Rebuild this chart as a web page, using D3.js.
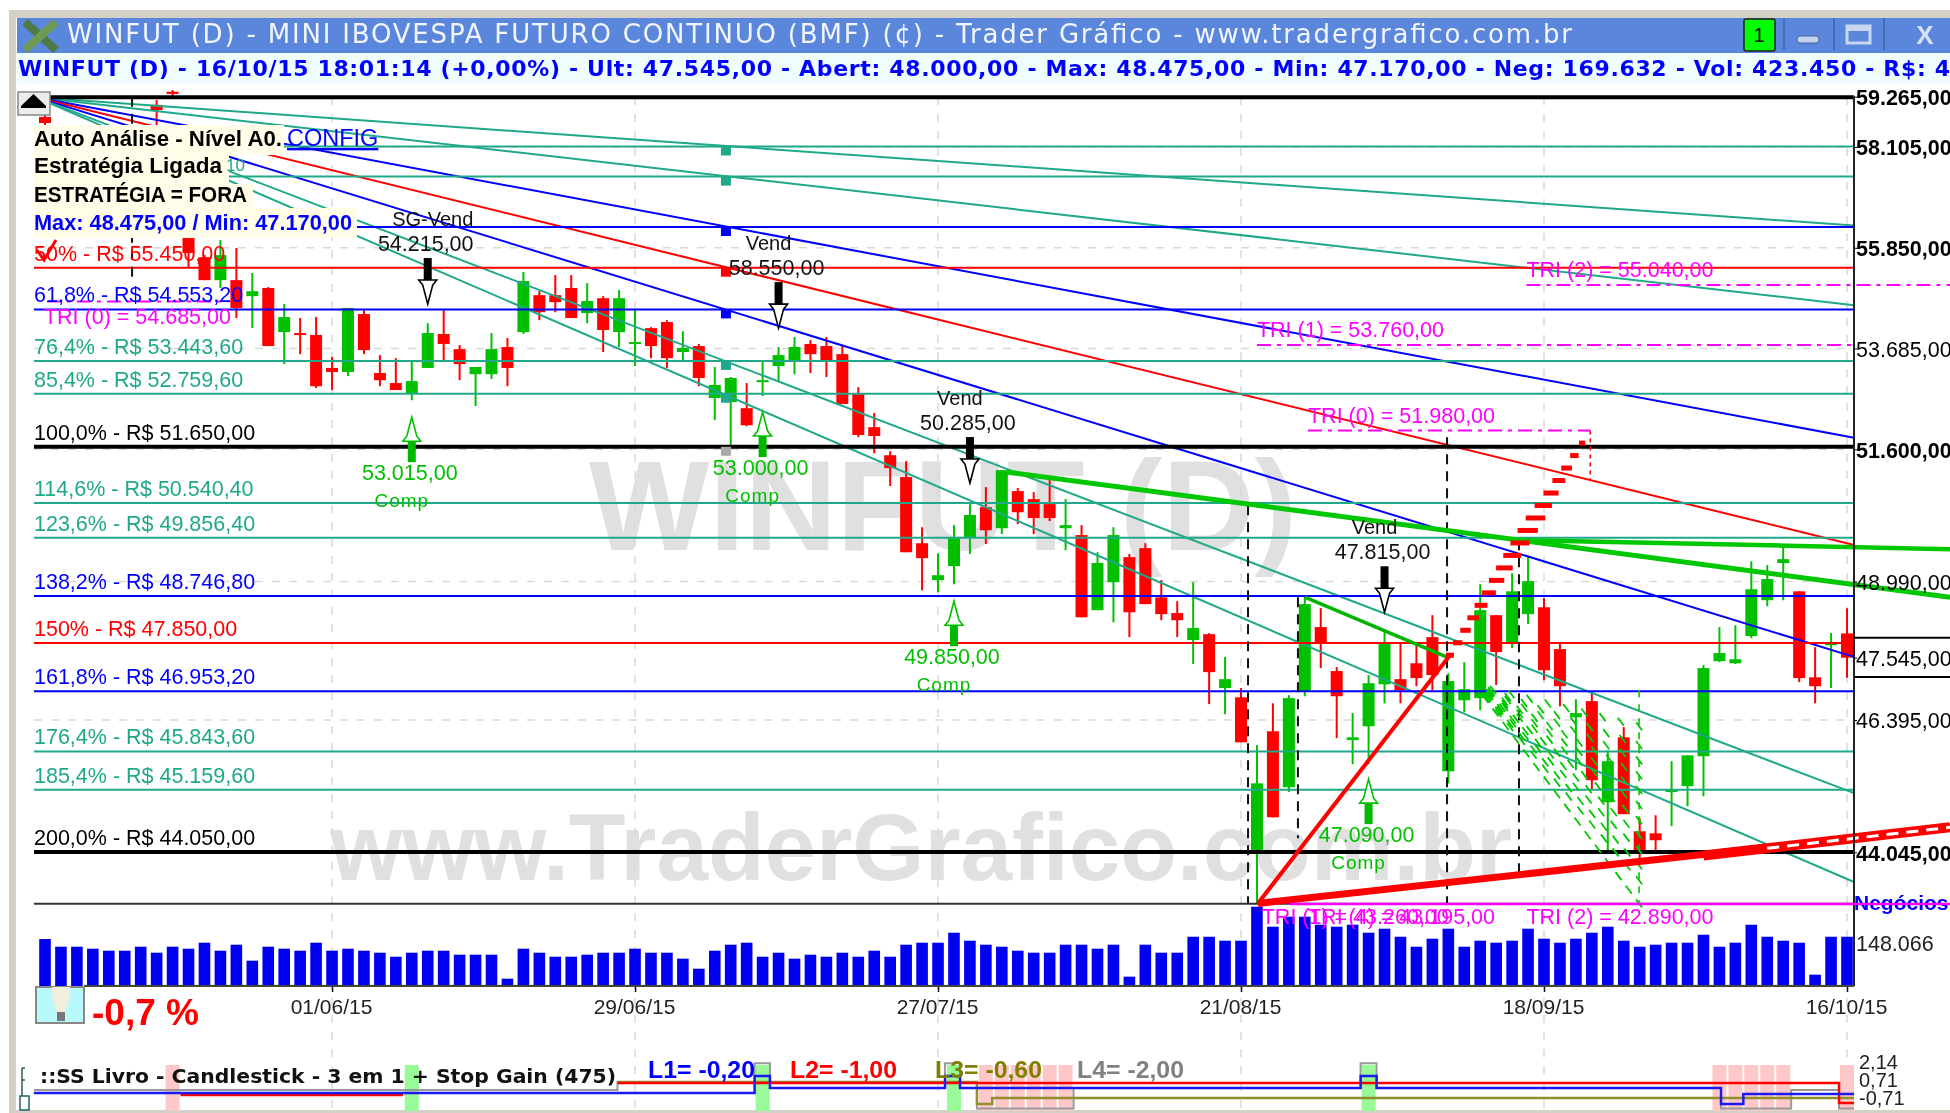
<!DOCTYPE html>
<html>
<head>
<meta charset="utf-8">
<title>WINFUT (D)</title>
<script src="https://d3js.org/d3.v7.min.js"></script>
<style>
  html, body { margin: 0; padding: 0; background: #fff; overflow: hidden; }
  svg { display: block; filter: blur(0.45px); }
  text { font-family: "Liberation Sans", Arial, sans-serif; }
</style>
</head>
<body>
<div id="chart"></div>
<script>
// candles, one entry per session
const opens = [58795,58495,57695,58035,56905,57355,58035,59075,59380,56065,55645,55145,55145,54800,54975,54030,54010,53970,53275,53190,54415,53170,52960,52750,53275,53990,53670,53145,53145,53715,54030,54820,54820,54975,54435,54755,54030,53780,54115,54245,53610,53735,52650,52565,52440,53000,53315,53420,53780,53735,53565,52730,52050,51480,51040,49730,49015,49285,49850,50440,50025,50760,50600,50500,50025,49890,48440,48975,49460,49635,48685,48385,47875,47985,46980,46810,44030,46190,45185,46925,48120,47295,46030,46280,47050,47145,47440,47930,45470,46755,46795,48345,47815,48365,48495,47705,46445,46740,44920,46080,44410,44375,45100,45205,45740,47480,47440,47950,48630,49345,48800,47180,47780,48000];
const highs = [58840,58585,58495,58265,57810,57470,58265,59190,59420,56065,55690,56020,55845,55300,54995,54630,54330,54350,53505,54545,54500,53545,53480,53400,54220,54500,53755,53295,54010,53905,55320,54905,55255,55255,55080,54800,54930,54500,54135,54285,54050,53780,53295,53085,52960,53400,53715,53925,53860,53925,53755,52875,52340,51560,51360,50045,49535,50085,50500,50840,51180,50820,50740,50980,50600,50085,49555,50045,49520,49730,49015,48610,48975,48005,47555,46980,45940,46700,46850,48705,48480,47370,46520,47220,48025,47815,47815,48345,47255,47460,48935,48345,49150,49460,48670,47815,46775,46885,45845,46265,44640,44690,45650,45755,47405,48120,48155,49380,49305,49675,48800,47740,48005,48475];
const lows = [58610,57810,57470,56905,56685,56350,57130,58380,59260,55430,55145,54975,54330,54115,53735,53355,53565,52855,52815,53105,53565,52895,52815,52605,53275,53420,53020,52485,53045,52895,53990,54285,54455,54330,54220,53610,53715,53315,53480,53275,53420,52895,52195,51685,52070,52690,52980,53145,53170,53085,52525,51845,51520,50860,49555,48820,48785,48935,49520,49715,49910,50105,49910,50165,49595,48305,48440,48210,47930,48555,48250,47930,47425,46685,46500,45990,43170,44655,45100,46830,47350,46065,45595,45595,46700,46700,47015,46940,45255,46535,46575,47035,47725,48175,47125,46645,45490,45135,44080,44710,43910,44030,44500,44850,45025,47460,47425,47910,48515,48630,47090,46700,46980,47170];
const closes = [58655,58035,58265,57130,57580,56685,57470,58955,59330,55735,55145,55690,54545,54905,53735,54350,53990,52895,53190,54545,53650,53020,52815,53000,54010,53780,53355,53295,53670,53275,55125,54455,54670,54330,54695,54075,54755,53820,53735,53480,53695,53065,52920,53065,52090,53020,53545,53715,53565,53420,52525,51890,51870,51220,49555,49440,49110,49830,50285,49985,51180,50340,50225,50225,50085,48305,49345,49890,48400,48555,48365,48250,48100,47275,47145,45990,45255,44655,46795,48555,47815,46830,46080,47070,47800,46940,47165,47220,47110,46960,48440,47650,48800,48995,47310,47015,46520,45310,45650,44710,44030,44255,45135,45755,47350,47630,47515,48840,49035,49420,47165,47015,47815,47545];

// negocios per session, in thousands
const negocios = [161.7,135.3,135.3,128.5,121.6,121.6,135.3,114.7,135.3,128.5,149.1,121.6,142.2,87.2,135.3,128.5,121.6,149.1,121.6,128.5,121.6,114.7,100.9,114.7,121.6,121.6,107.8,107.8,107.8,25.2,128.5,114.7,100.9,100.9,107.8,114.7,114.7,128.5,114.7,114.7,94.1,59.6,121.6,142.2,149.1,100.9,114.7,94.1,107.8,100.9,114.7,100.9,121.6,100.9,142.2,149.1,149.1,183.5,156,142.2,135.3,121.6,114.7,114.7,142.2,142.2,128.5,142.2,32.1,142.2,114.7,114.7,169.6,169.6,156,156,273,204.2,238.6,238.6,211,204.2,211,183.5,197.3,169.6,135.3,162.9,197.3,135.3,156,149.1,156,197.3,162.9,149.1,162.9,183.5,204.2,156,135.3,142.2,149.1,149.1,176.6,135.3,149.1,211,169.6,156,149.1,39,169.6,169.6];

const dateTicks = [18, 37, 56, 75, 94, 113];
const dateLabels = ["01/06/15", "29/06/15", "27/07/15", "21/08/15", "18/09/15", "16/10/15"];

const priceTicks = [59265, 58105, 55850, 53685, 51600, 48990, 47545, 46395, 44045];
const boldTicks = [59265, 58105, 55850, 51600, 44045];

// fibonacci levels, first one is the top line of the chart
const levelPrices = [59250, 58140.4, 57456.4, 56347.2, 55450, 54553.2, 53443.6, 52759.6, 51650, 50540.4, 49856.4, 48746.8, 47850, 46953.2, 45843.6, 45159.6, 44050];
const levelPct = ["0%", "14,6%", "23,6%", "38,2%", "50%", "61,8%", "76,4%", "85,4%", "100,0%", "114,6%", "123,6%", "138,2%", "150%", "161,8%", "176,4%", "185,4%", "200,0%"];
const levelKinds = ["black", "teal", "teal", "blue", "red", "blue", "teal", "teal", "black", "teal", "teal", "blue", "red", "blue", "teal", "teal", "black"];
const levelText = ["", "", "", "", "55.450,00", "54.553,20", "53.443,60", "52.759,60", "51.650,00", "50.540,40", "49.856,40", "48.746,80", "47.850,00", "46.953,20", "45.843,60", "45.159,60", "44.050,00"];

// fan lines, all leave the same point and end at these prices on the right edge
const fanStart = [-0.56, 59250];
const fanEndIdx = 113.44;
const fanEnds = [56340, 54605, 51835, 49695, 47560, 45080, 43535];
const fanKinds = ["teal", "teal", "blue", "red", "blue", "teal", "teal"];

// little squares under the levels at the pivot session
const pivotIdx = 42.7;
const pivotLevels = [1, 2, 3, 4, 5, 6, 7, 8];

const tri = [
  { label: "TRI (0) = 54.685,00", price: 54685, from: 0.12, to: 11.5 },
  { label: "TRI (1) = 53.760,00", price: 53760, from: 76, to: 113.44 },
  { label: "TRI (2) = 55.040,00", price: 55040, from: 92.9, to: 119.5 },
  { label: "TRI (0) = 51.980,00", price: 51980, from: 79.2, to: 96.9 }
];
const triBottom = [
  { label: "TRI (1) = 43.260,00", from: 76.3 },
  { label: "TRI (4) = 43.195,00", from: 79.2 },
  { label: "TRI (2) = 42.890,00", from: 92.9 }
];

// [idx, price] pairs for the trend lines
const greenA = [[60.33, 51140], [119.46, 48685]];
const greenB = [[92.87, 49790], [119.46, 49615]];
const greenC = [[79.0, 48690], [87.92, 47555]];
const redA = [[76.06, 43170], [88.1, 47590]];
const redDash = [[88.1, 47590], [96.88, 51980]];
const redBottom = [[76.06, 43170], [119.46, 44480]];
const redBottomWide = [[104, 43990], [119.46, 44480]];

const hatchStart = [89.67, 47035];
const hatchEndIdx = 99.96;
const hatchEnds = [46280, 45940, 45665, 45400, 45135, 44870, 44605, 44340, 44080, 43820, 43565, 43170];

const vertIdx = [5.46, 75.44, 78.57, 87.92, 92.43];
const vertTop = [59265, 50480, 48685, 51845, 49790];
const vertBottom = [55105, 43170, 44290, 43170, 43565];

const sellIdx = [24, 46, 58, 84];
const sellTip = [54630, 54115, 50920, 48400];
const sellName = ["SG-Vend", "Vend", "Vend", "Vend"];
const sellText = ["54.215,00", "58.550,00", "50.285,00", "47.815,00"];

const buyIdx = [23, 45, 57, 83];
const buyTip = [52255, 52360, 48610, 45330];
const buyText = ["53.015,00", "53.000,00", "49.850,00", "47.090,00"];

// bottom indicator
const greenBands = [23, 45, 57, 83];
const pinkBands = [8, 59, 60, 61, 62, 63, 64, 105, 106, 107, 108, 109, 113];
const oscTicks = ["2,14", "0,71", "-0,71"];
const oscTickValues = [2.14, 0.71, -0.71];
const oscBlue = [[-0.7, -0.32], [44.5, 1.03], [45.46, 0.08], [56.44, 1.03], [57.38, 0.08], [82.5, 1.03], [83.5, 0.08], [105.1, -1.18], [106.5, -0.39], [113.44, -0.39]];
const oscRedA = [[8.5, -0.47], [22.45, -0.47]];
const oscRedB = [[35.9, 0.47], [112.5, -1.1], [113.44, -1.1]];
const oscOlive = [[35.9, 0.55], [58.44, -1.18], [59.4, -0.71], [113.44, -0.71]];
const oscGray = [[-0.7, -0.08], [35.9, 0.55], [44.5, 2.05], [45.46, 0.55], [56.44, 2.05], [57.38, 0.55], [58.44, -1.55], [64.5, 0.08], [82.5, 2.05], [83.5, 0.08], [105.1, -1.55], [109.5, -0.08], [112.5, -1.55], [113.44, -1.55]];

// ---------------------------------------------------------------
const WIDTH = 1950, HEIGHT = 1113;
const PLOT_LEFT = 34, PLOT_RIGHT = 1854, VOL_BASE = 986;
const colors = { teal: "#20a88a", blue: "#0000ff", red: "#ff0000", black: "#000", green: "#00c000", magenta: "#ff00ff" };
// the coloured levels sit a pixel or two under the true scale in the original
const levelNudge = { teal: 1, blue: 1.8, red: 1.6, black: 0 };

const svg = d3.select("#chart").append("svg").attr("width", WIDTH).attr("height", HEIGHT);

const x = d3.scaleLinear().domain([0, 113]).range([45, 1847]);
const y = d3.scaleLog().domain([59265, 43165]).range([96.7, 903.7]);
const yVol = d3.scaleLinear().domain([0, 148.066]).range([VOL_BASE, 943]);
const yOsc = d3.scaleLinear().domain([2.14, -0.71]).range([1062, 1098]);
const yLevel = i => y(levelPrices[i]) + levelNudge[levelKinds[i]];

const lineXY = d3.line().x(d => x(d[0])).y(d => y(d[1]));
const oscLine = d3.line().x(d => x(d[0])).y(d => yOsc(d[1])).curve(d3.curveStepAfter);

// ---- window chrome
svg.append("rect").attr("x", 9).attr("y", 10).attr("width", WIDTH).attr("height", HEIGHT).attr("fill", "#d4d0c8");
svg.append("rect").attr("x", 16).attr("y", 18).attr("width", WIDTH).attr("height", HEIGHT - 21).attr("fill", "#fff");
svg.append("rect").attr("x", 17).attr("y", 18).attr("width", WIDTH).attr("height", 35).attr("fill", "#5a87db");
svg.append("rect").attr("x", 17).attr("y", 53).attr("width", WIDTH).attr("height", 31).attr("fill", "#effdff");

svg.append("path").attr("d", "M25,22 L56,50").attr("stroke", "#4f7a45").attr("stroke-width", 8);
svg.append("path").attr("d", "M25,50 L56,22").attr("stroke", "#6f9a55").attr("stroke-width", 8);

svg.append("text").attr("x", 67).attr("y", 43).attr("fill", "#f2f5ff")
  .style("font-family", "'DejaVu Sans'").style("font-size", "26px")
  .attr("textLength", 1505).attr("lengthAdjust", "spacing")
  .text("WINFUT (D) - MINI IBOVESPA FUTURO CONTINUO (BMF) (¢) - Trader Gráfico - www.tradergrafico.com.br");
svg.append("text").attr("x", 18).attr("y", 76).attr("fill", "#0000ff")
  .style("font-family", "'DejaVu Sans'").style("font-weight", "bold").style("font-size", "22px")
  .attr("textLength", 1932).attr("lengthAdjust", "spacing")
  .text("WINFUT (D) - 16/10/15 18:01:14 (+0,00%) - Ult: 47.545,00 - Abert: 48.000,00 - Max: 48.475,00 - Min: 47.170,00 - Neg: 169.632 - Vol: 423.450 - R$: 4");

svg.append("rect").attr("x", 1744).attr("y", 19).attr("width", 31).attr("height", 32).attr("rx", 2)
  .attr("fill", "#00ff00").attr("stroke", "#222").attr("stroke-width", 1.5);
svg.append("text").attr("x", 1759).attr("y", 42).attr("text-anchor", "middle").style("font-size", "20px").text("1");
[1784, 1834, 1884].forEach(b => {
  svg.append("line").attr("x1", b).attr("x2", b).attr("y1", 18).attr("y2", 50).attr("stroke", "#44629e").attr("stroke-width", 1.5);
});
svg.append("rect").attr("x", 1797).attr("y", 36).attr("width", 22).attr("height", 7).attr("rx", 3).attr("fill", "#c4d2ee").attr("stroke", "#44629e");
svg.append("rect").attr("x", 1847).attr("y", 26).attr("width", 23).attr("height", 17).attr("fill", "none").attr("stroke", "#c8d6f0").attr("stroke-width", 3);
svg.append("rect").attr("x", 1847).attr("y", 26).attr("width", 23).attr("height", 5).attr("fill", "#c8d6f0");
svg.append("text").attr("x", 1925).attr("y", 44).attr("text-anchor", "middle").attr("fill", "#d8e2f6")
  .style("font-size", "26px").style("font-weight", "bold").text("X");

// ---- watermarks
const mark = svg.append("g").attr("fill", "#e0e0e0").style("font-weight", "bold");
mark.append("text").attr("x", 589).attr("y", 550).style("font-size", "128px")
  .attr("textLength", 708).attr("lengthAdjust", "spacingAndGlyphs").text("WINFUT (D)");
mark.append("text").attr("x", 330).attr("y", 880).style("font-size", "95px")
  .attr("textLength", 1182).attr("lengthAdjust", "spacingAndGlyphs").text("www.TraderGrafico.com.br");

// ---- grid
const grid = svg.append("g").attr("stroke", "#d9d9d9").attr("stroke-width", 1.5).attr("stroke-dasharray", "8 9");
grid.selectAll("line.v").data(dateTicks).join("line").attr("class", "v")
  .attr("x1", d => x(d)).attr("x2", d => x(d)).attr("y1", 97).attr("y2", 1110);
grid.selectAll("line.h").data(priceTicks.filter(d => d !== 47545 && d !== 59265)).join("line").attr("class", "h")
  .attr("x1", PLOT_LEFT).attr("x2", PLOT_RIGHT).attr("y1", d => y(d)).attr("y2", d => y(d));

// ---- candles
const candles = svg.append("g");
const isUp = i => closes[i] >= opens[i];
candles.selectAll("line").data(opens).join("line")
  .attr("x1", (d, i) => x(i)).attr("x2", (d, i) => x(i))
  .attr("y1", (d, i) => y(highs[i])).attr("y2", (d, i) => y(lows[i]))
  .attr("stroke", (d, i) => isUp(i) ? colors.green : colors.red).attr("stroke-width", 2);
candles.selectAll("rect").data(opens).join("rect")
  .attr("x", (d, i) => x(i) - 6).attr("width", 12)
  .attr("y", (d, i) => Math.min(y(opens[i]), y(closes[i])))
  .attr("height", (d, i) => Math.max(2, Math.abs(y(opens[i]) - y(closes[i]))))
  .attr("fill", (d, i) => isUp(i) ? colors.green : colors.red);

// ---- volume
svg.append("g").selectAll("rect").data(negocios).join("rect")
  .attr("x", (d, i) => x(i) - 5.8).attr("width", 11.6)
  .attr("y", d => yVol(d)).attr("height", d => VOL_BASE - yVol(d))
  .attr("fill", "#0000f0");

// ---- fan lines and levels
svg.append("g").selectAll("path").data(fanEnds).join("path")
  .attr("d", d => lineXY([fanStart, [fanEndIdx, d]]))
  .attr("fill", "none").attr("stroke", (d, i) => colors[fanKinds[i]]).attr("stroke-width", 2);

svg.append("g").selectAll("line").data(levelPrices).join("line")
  .attr("x1", PLOT_LEFT).attr("x2", PLOT_RIGHT)
  .attr("y1", (d, i) => yLevel(i)).attr("y2", (d, i) => yLevel(i))
  .attr("stroke", (d, i) => colors[levelKinds[i]])
  .attr("stroke-width", (d, i) => levelKinds[i] === "black" ? 4 : 2);
svg.append("line").attr("x1", PLOT_LEFT).attr("x2", PLOT_RIGHT).attr("y1", 903.7).attr("y2", 903.7).attr("stroke", "#333").attr("stroke-width", 2);

svg.append("g").selectAll("rect").data(pivotLevels).join("rect")
  .attr("x", x(pivotIdx) - 5).attr("width", 10)
  .attr("y", d => yLevel(d)).attr("height", 9)
  .attr("fill", d => d === 8 ? "#aaa" : colors[levelKinds[d]]);

// ---- dashed verticals
svg.append("g").selectAll("line").data(vertIdx).join("line")
  .attr("x1", d => x(d)).attr("x2", d => x(d))
  .attr("y1", (d, i) => y(vertTop[i])).attr("y2", (d, i) => y(vertBottom[i]))
  .attr("stroke", "#111").attr("stroke-width", 2).attr("stroke-dasharray", "10 7");

// ---- green hatch, short slashes along lines that leave the same point
const hatchPath = d3.path();
hatchEnds.forEach(end => {
  const x0 = x(hatchStart[0]), y0 = y(hatchStart[1]), x1 = x(hatchEndIdx), y1 = y(end);
  const steps = Math.floor(Math.hypot(x1 - x0, y1 - y0) / 17);
  d3.range(1, steps + 1).forEach(s => {
    const px = x0 + (x1 - x0) * s / steps, py = y0 + (y1 - y0) * s / steps;
    hatchPath.moveTo(px - 3, py - 4);
    hatchPath.lineTo(px + 3, py + 4);
  });
});
svg.append("path").attr("d", hatchPath.toString()).attr("fill", "none").attr("stroke", "#00c800").attr("stroke-width", 1.8);
svg.append("line").attr("x1", x(hatchEndIdx)).attr("x2", x(hatchEndIdx))
  .attr("y1", y(46940)).attr("y2", y(43170))
  .attr("stroke", "#00c800").attr("stroke-width", 1.6).attr("stroke-dasharray", "7 7");

// ---- trend lines
const trend = svg.append("g").attr("fill", "none");
trend.append("path").attr("d", lineXY(greenA)).attr("stroke", "#00c800").attr("stroke-width", 5);
trend.append("path").attr("d", lineXY(greenB)).attr("stroke", "#00c800").attr("stroke-width", 4.5);
trend.append("path").attr("d", lineXY(greenC)).attr("stroke", "#00b400").attr("stroke-width", 3.5);
trend.append("path").attr("d", lineXY(redA)).attr("stroke", colors.red).attr("stroke-width", 4);
trend.append("path").attr("d", lineXY(redBottom)).attr("stroke", colors.red).attr("stroke-width", 7);
trend.append("path").attr("d", lineXY(redBottomWide)).attr("stroke", colors.red).attr("stroke-width", 10);
trend.append("path").attr("d", lineXY([[108, 44115], [119.46, 44480]])).attr("stroke", "#fff").attr("stroke-width", 3).attr("stroke-dasharray", "12 8");

// the dashed leg of the triangle is drawn as flat strips in the original
const dashX0 = x(redDash[0][0]), dashY0 = y(redDash[0][1]), dashX1 = x(redDash[1][0]), dashY1 = y(redDash[1][1]);
svg.append("g").selectAll("rect").data(d3.range(0, 1, 1 / 18)).join("rect")
  .attr("x", t => dashX0 + (dashX1 - dashX0) * t - Math.min(8 + 22 * t, 4 + 40 * (1 - t)) / 2)
  .attr("y", t => dashY0 + (dashY1 - dashY0) * t - 2.5)
  .attr("width", t => Math.min(8 + 22 * t, 4 + 40 * (1 - t)))
  .attr("height", 5)
  .attr("fill", colors.red);
svg.append("line").attr("x1", x(96.9)).attr("x2", x(96.9)).attr("y1", y(51980)).attr("y2", y(50980))
  .attr("stroke", colors.red).attr("stroke-width", 1.5).attr("stroke-dasharray", "4 4");

// ---- TRI lines
const triG = svg.append("g");
triG.selectAll("line").data(tri).join("line")
  .attr("x1", d => x(d.from)).attr("x2", d => x(d.to))
  .attr("y1", d => y(d.price)).attr("y2", d => y(d.price))
  .attr("stroke", colors.magenta).attr("stroke-width", 2).attr("stroke-dasharray", "14 6 4 6");
triG.append("line").attr("x1", 1290).attr("x2", WIDTH).attr("y1", 904).attr("y2", 904)
  .attr("stroke", colors.magenta).attr("stroke-width", 2.5);
triG.selectAll("text.up").data(tri).join("text").attr("class", "up")
  .attr("x", (d, i) => x(d.from) + (i === 0 ? -3 : 0))
  .attr("y", (d, i) => y(d.price) + (i === 0 ? 23 : -8))
  .attr("fill", colors.magenta).style("font-size", "21.5px").text(d => d.label);
triG.selectAll("text.low").data(triBottom).join("text").attr("class", "low")
  .attr("x", d => x(d.from)).attr("y", 924)
  .attr("fill", colors.magenta).style("font-size", "21.5px").text(d => d.label);

// ---- signals
const sells = svg.append("g");
sellIdx.forEach((d, i) => {
  const cx = x(d), t = y(sellTip[i]);
  sells.append("rect").attr("x", cx - 4).attr("y", t - 46).attr("width", 8).attr("height", 22).attr("fill", "#000");
  sells.append("path").attr("d", `M${cx - 9},${t - 24} L${cx + 9},${t - 24} L${cx + 5},${t - 19} L${cx},${t} L${cx - 5},${t - 19} Z`)
    .attr("fill", "#fff").attr("stroke", "#000").attr("stroke-width", 1.6);
  sells.append("text").attr("x", cx - 10 + (i === 0 ? 15 : 0)).attr("y", t - 78).attr("text-anchor", "middle")
    .style("font-size", "20px").attr("fill", "#111").text(sellName[i]);
  sells.append("text").attr("x", cx - 2).attr("y", t - 53).attr("text-anchor", "middle")
    .style("font-size", "21.5px").attr("fill", "#111").text(sellText[i]);
});

const buys = svg.append("g");
buyIdx.forEach((d, i) => {
  const cx = x(d), t = y(buyTip[i]);
  buys.append("rect").attr("x", cx - 4).attr("y", t + 23).attr("width", 8).attr("height", 22).attr("fill", "#00b800");
  buys.append("path").attr("d", `M${cx - 9},${t + 24} L${cx + 9},${t + 24} L${cx + 5},${t + 19} L${cx},${t} L${cx - 5},${t + 19} Z`)
    .attr("fill", "#fff").attr("stroke", "#00c000").attr("stroke-width", 1.6);
  buys.append("text").attr("x", cx - 2).attr("y", t + 63).attr("text-anchor", "middle")
    .style("font-size", "21.5px").attr("fill", "#00c000").text(buyText[i]);
  buys.append("text").attr("x", cx - 10).attr("y", t + 90).attr("text-anchor", "middle")
    .style("font-size", "19px").attr("fill", "#00c000").style("letter-spacing", "1px").text("Comp");
});

// ---- level labels
svg.append("g").selectAll("text").data(levelText).join("text")
  .attr("x", PLOT_LEFT)
  .attr("y", (d, i) => yLevel(i) - 7)
  .attr("fill", (d, i) => colors[levelKinds[i]])
  .style("font-size", "21.5px")
  .text((d, i) => d ? `${levelPct[i]} - R$ ${d}` : "");

// ---- auto analise box
const box = svg.append("g");
[[125, 250], [155, 195], [184, 219], [208, 323]].forEach(r => {
  box.append("rect").attr("x", PLOT_LEFT).attr("y", r[0]).attr("width", r[1]).attr("height", 30).attr("fill", "#fffde8");
});
const boxText = box.append("g").style("font-weight", "bold").style("font-size", "22px").attr("lengthAdjust", "spacingAndGlyphs");
boxText.append("text").attr("x", 34).attr("y", 146).attr("textLength", 248).attr("lengthAdjust", "spacingAndGlyphs").text("Auto Análise - Nível A0.");
boxText.append("text").attr("x", 34).attr("y", 173).attr("textLength", 188).attr("lengthAdjust", "spacingAndGlyphs").text("Estratégia Ligada");
boxText.append("text").attr("x", 34).attr("y", 202).attr("textLength", 213).attr("lengthAdjust", "spacingAndGlyphs").text("ESTRATÉGIA = FORA");
boxText.append("text").attr("x", 34).attr("y", 230).attr("fill", "#0000ff").attr("textLength", 318).attr("lengthAdjust", "spacingAndGlyphs").text("Max: 48.475,00 / Min: 47.170,00");
box.append("text").attr("x", 287).attr("y", 146).attr("fill", "#0000ff").style("font-size", "23.5px")
  .style("text-decoration", "underline").text("CONFIG");
box.append("text").attr("x", 226).attr("y", 171).attr("fill", colors.teal).style("font-size", "17px").text("10");

// red check beside the 50% label
svg.append("path").attr("d", "M37,250 L44,260 L56,240").attr("fill", "none").attr("stroke", colors.red).attr("stroke-width", 3);

// up-arrow button
svg.append("rect").attr("x", 18).attr("y", 92).attr("width", 32).attr("height", 23).attr("fill", "#ececec").attr("stroke", "#888").attr("stroke-width", 1.5);
svg.append("path").attr("d", "M21,106 L33.5,94 L46,106 Z").attr("fill", "#000");
svg.append("rect").attr("x", 21).attr("y", 106).attr("width", 25).attr("height", 2).attr("fill", "#000");

// ---- axes
const fmtPrice = d3.format(",.2f");
const brPrice = d => fmtPrice(d).replace(/,/g, "#").replace(".", ",").replace(/#/g, ".");

const priceAxis = d3.axisRight(y).tickValues(priceTicks).tickSize(3).tickFormat(brPrice);
const gPrice = svg.append("g").attr("transform", `translate(${PLOT_RIGHT},0)`).call(priceAxis);
gPrice.select(".domain").remove();
gPrice.selectAll("text")
  .attr("x", 2).attr("dy", "0.37em").attr("fill", "#000")
  .style("font-size", "21.5px")
  .style("font-family", "'Liberation Sans'")
  .style("font-weight", d => boldTicks.includes(d) ? "bold" : "normal");
gPrice.selectAll("line").attr("stroke", "#000");

svg.append("line").attr("x1", PLOT_RIGHT).attr("x2", PLOT_RIGHT).attr("y1", 96).attr("y2", VOL_BASE).attr("stroke", "#222").attr("stroke-width", 2);
[637.7, 677].forEach(v => {
  svg.append("line").attr("x1", PLOT_RIGHT).attr("x2", WIDTH).attr("y1", v).attr("y2", v).attr("stroke", "#000").attr("stroke-width", 2);
});

const dateAxis = d3.axisBottom(x).tickValues(dateTicks).tickSize(6).tickFormat((d, i) => dateLabels[i]);
const gDate = svg.append("g").attr("transform", `translate(0,${VOL_BASE})`).call(dateAxis);
gDate.select(".domain").remove();
gDate.selectAll("line").attr("stroke", "#111").attr("stroke-width", 1.5);
gDate.selectAll("text").attr("y", 13).attr("dy", "0.71em").attr("fill", "#222")
  .attr("x", -1)
  .style("font-size", "21px").style("font-family", "'Liberation Sans'");
svg.append("line").attr("x1", 84).attr("x2", PLOT_RIGHT).attr("y1", VOL_BASE).attr("y2", VOL_BASE).attr("stroke", "#444").attr("stroke-width", 2);

svg.append("text").attr("x", PLOT_RIGHT).attr("y", 910).attr("fill", "#0000ff")
  .style("font-size", "21px").style("font-weight", "bold").text("Negócios");
svg.append("line").attr("x1", PLOT_RIGHT).attr("x2", WIDTH).attr("y1", 904).attr("y2", 904).attr("stroke", colors.magenta).attr("stroke-width", 2);
svg.append("text").attr("x", PLOT_RIGHT + 2).attr("y", yVol(148.066) + 7.5).style("font-size", "21.5px").attr("fill", "#222").text("148.066");

// ---- bulb and percent
svg.append("rect").attr("x", 36).attr("y", 987).attr("width", 48).attr("height", 36).attr("fill", "#b8f9fb").attr("stroke", "#888").attr("stroke-width", 2);
svg.append("path").attr("d", "M52,987 L70,987 C72,1000 66,1004 65,1016 L57,1016 C56,1004 50,1000 52,987 Z").attr("fill", "#f0eedc");
svg.append("rect").attr("x", 57).attr("y", 1012).attr("width", 8).attr("height", 9).attr("fill", "#777");
svg.append("text").attr("x", 92).attr("y", 1025).attr("fill", colors.red)
  .style("font-size", "37px").style("font-weight", "bold").text("-0,7 %");

// ---- bottom indicator
const osc = svg.append("g");
osc.selectAll("rect.g").data(greenBands).join("rect").attr("class", "g")
  .attr("x", d => x(d) - 7).attr("width", 14).attr("y", 1065).attr("height", 46).attr("fill", "#98fb98");
osc.selectAll("rect.p").data(pinkBands).join("rect").attr("class", "p")
  .attr("x", d => x(d) - 7).attr("width", 14).attr("y", 1065).attr("height", 46).attr("fill", "#ffc8c8");
osc.append("path").attr("d", oscLine(oscGray)).attr("fill", "none").attr("stroke", "#999").attr("stroke-width", 2);
osc.append("path").attr("d", oscLine(oscOlive)).attr("fill", "none").attr("stroke", "#8f8f2e").attr("stroke-width", 2.5);
osc.append("path").attr("d", oscLine(oscRedA)).attr("fill", "none").attr("stroke", colors.red).attr("stroke-width", 2.5);
osc.append("path").attr("d", oscLine(oscRedB)).attr("fill", "none").attr("stroke", colors.red).attr("stroke-width", 2.5);
osc.append("path").attr("d", oscLine(oscBlue)).attr("fill", "none").attr("stroke", "#1a1af0").attr("stroke-width", 2.5);

svg.append("rect").attr("x", 20).attr("y", 1096).attr("width", 9).attr("height", 14).attr("fill", "none").attr("stroke", "#206060").attr("stroke-width", 1.5);
svg.append("path").attr("d", "M22,1068 L22,1096 M22,1068 L25,1068 M22,1080 L25,1080").attr("fill", "none").attr("stroke", "#206060").attr("stroke-width", 1.5);

svg.append("text").attr("x", 40).attr("y", 1083).attr("fill", "#111")
  .style("font-family", "'DejaVu Sans'").style("font-size", "20px").style("font-weight", "bold")
  .attr("textLength", 576).attr("lengthAdjust", "spacingAndGlyphs")
  .text("::SS Livro - Candlestick - 3 em 1 + Stop Gain (475)");

[["L1= -0,20", 648, "#0000ff"], ["L2= -1,00", 790, "#ff0000"], ["L3= -0,60", 935, "#808000"], ["L4= -2,00", 1077, "#808080"]].forEach(l => {
  svg.append("text").attr("x", l[1]).attr("y", 1078).attr("fill", l[2])
    .style("font-size", "23px").style("font-weight", "bold").attr("textLength", 107).attr("lengthAdjust", "spacingAndGlyphs").text(l[0]);
});

svg.append("g").selectAll("text").data(oscTickValues).join("text")
  .attr("x", PLOT_RIGHT + 5).attr("y", d => yOsc(d) + 7)
  .style("font-size", "20px").attr("fill", "#222").text((d, i) => oscTicks[i]);
</script>
</body>
</html>
